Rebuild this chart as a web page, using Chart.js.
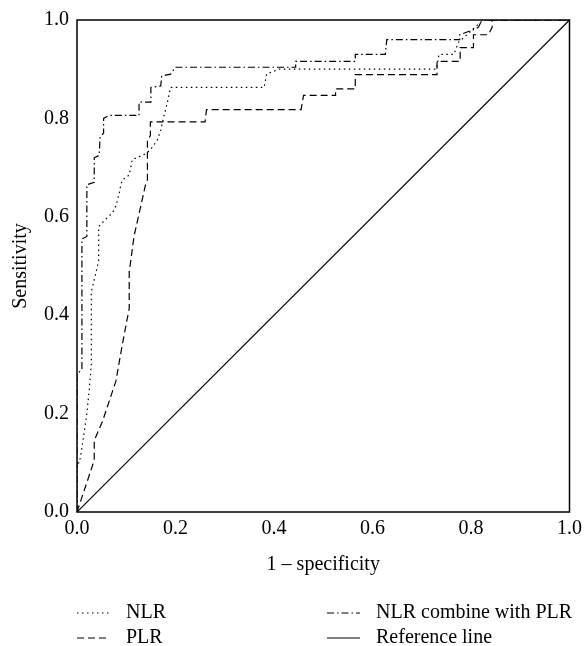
<!DOCTYPE html>
<html>
<head>
<meta charset="utf-8">
<script src="https://cdn.jsdelivr.net/npm/chart.js@4/dist/chart.umd.min.js"></script>
<style>
  html, body { margin: 0; padding: 0; background: #fff; }
</style>
</head>
<body>
<canvas id="roc" width="587" height="646"></canvas>
<script>
// ROC curves, 1 - specificity (x) vs sensitivity (y)
const nlrX = [0, 0, 0.005, 0.01, 0.02, 0.025, 0.029, 0.029, 0.044, 0.044, 0.055, 0.072, 0.079, 0.086, 0.089, 0.092, 0.106, 0.109, 0.112, 0.139, 0.149, 0.156, 0.163, 0.17, 0.176, 0.183, 0.19, 0.38, 0.385, 0.41, 0.73, 0.735, 0.765, 0.775, 0.797, 0.81, 0.825, 1]
const nlrY = [0, 0.1, 0.1, 0.13, 0.2, 0.25, 0.3, 0.447, 0.51, 0.58, 0.592, 0.608, 0.622, 0.649, 0.665, 0.675, 0.685, 0.699, 0.716, 0.728, 0.736, 0.746, 0.756, 0.776, 0.803, 0.83, 0.863, 0.863, 0.89, 0.9, 0.9, 0.93, 0.93, 0.955, 0.975, 0.987, 1, 1]

const plrX = [0, 0.035, 0.035, 0.052, 0.079, 0.086, 0.092, 0.102, 0.106, 0.106, 0.116, 0.122, 0.134, 0.139, 0.143, 0.143, 0.149, 0.149, 0.26, 0.263, 0.455, 0.46, 0.525, 0.525, 0.565, 0.565, 0.731, 0.731, 0.778, 0.778, 0.805, 0.805, 0.835, 0.843, 0.843, 1]
const plrY = [0, 0.105, 0.145, 0.185, 0.266, 0.306, 0.34, 0.393, 0.413, 0.487, 0.562, 0.588, 0.642, 0.665, 0.675, 0.755, 0.765, 0.793, 0.793, 0.818, 0.818, 0.847, 0.847, 0.86, 0.86, 0.889, 0.889, 0.916, 0.916, 0.944, 0.944, 0.97, 0.97, 0.985, 1, 1]

const combX = [0, 0, 0.01, 0.01, 0.02, 0.02, 0.035, 0.035, 0.045, 0.047, 0.054, 0.054, 0.065, 0.126, 0.126, 0.15, 0.15, 0.17, 0.172, 0.19, 0.2, 0.444, 0.444, 0.565, 0.565, 0.626, 0.629, 0.777, 0.777, 0.804, 0.815, 0.822, 1]
const combY = [0, 0.28, 0.29, 0.555, 0.56, 0.665, 0.67, 0.72, 0.725, 0.763, 0.77, 0.8, 0.806, 0.806, 0.833, 0.833, 0.863, 0.866, 0.886, 0.89, 0.904, 0.904, 0.916, 0.916, 0.93, 0.93, 0.96, 0.96, 0.97, 0.98, 0.985, 1, 1]

const refX = [0, 1]
const refY = [0, 1]

const xTicks = [0, 0.2, 0.4, 0.6, 0.8, 1.0]
const yTicks = [0, 0.2, 0.4, 0.6, 0.8, 1.0]

const toPoints = (xs, ys) => xs.map((x, i) => ({x: x, y: ys[i]}))

const serif = "'Liberation Serif', 'DejaVu Serif', serif"

// legend in two columns under the axis title
const legendGrid = {
    id: 'legendGrid',
    afterDraw(chart) {
        const ctx = chart.ctx
        const cols = [77, 327]
        const rows = [613, 638]
        const order = [0, 2, 1, 3]
        order.forEach((di, k) => {
            const ds = chart.data.datasets[di]
            const x = cols[k % 2]
            const y = rows[Math.floor(k / 2)]
            ctx.save()
            ctx.strokeStyle = '#000'
            ctx.lineWidth = ds.borderWidth
            ctx.setLineDash(ds.borderDash || [])
            ctx.beginPath()
            ctx.moveTo(x, y)
            ctx.lineTo(x + 33, y)
            ctx.stroke()
            ctx.setLineDash([])
            ctx.fillStyle = '#000'
            ctx.font = '20px ' + serif
            ctx.textBaseline = 'middle'
            ctx.fillText(ds.label, x + 49, y)
            ctx.restore()
        })
    }
}

const frame = {
    id: 'frame',
    afterDatasetsDraw(chart) {
        const {left, top, right, bottom} = chart.chartArea
        const ctx = chart.ctx
        ctx.save()
        ctx.strokeStyle = '#000'
        ctx.lineWidth = 1.5
        ctx.strokeRect(left, top, right - left, bottom - top)
        ctx.restore()
    }
}

const roc = new Chart(document.getElementById('roc').getContext('2d'), {
    type: 'scatter',
    data: {
        datasets: [{
            label: 'NLR',
            data: toPoints(nlrX, nlrY),
            borderDash: [1.5, 3.5],
        }, {
            label: 'PLR',
            data: toPoints(plrX, plrY),
            borderDash: [7, 4],
        }, {
            label: 'NLR combine with PLR',
            data: toPoints(combX, combY),
            borderDash: [7, 3, 1.5, 3],
        }, {
            label: 'Reference line',
            data: toPoints(refX, refY),
        }].map(ds => Object.assign({
            showLine: true,
            borderColor: '#000',
            backgroundColor: '#000',
            borderWidth: 1.2,
            pointRadius: 0,
            tension: 0,
        }, ds))
    },
    options: {
        responsive: false,
        animation: false,
        layout: {padding: {top: 15, right: 13, left: 0, bottom: 0}},
        plugins: {
            legend: {display: false},
            tooltip: {enabled: false},
        },
        scales: {
            x: {
                type: 'linear',
                min: 0,
                max: 1,
                afterFit: (s) => { s.height = 134 },
                afterBuildTicks: (s) => { s.ticks = xTicks.map(v => ({value: v})) },
                grid: {display: false, drawTicks: false},
                border: {display: false},
                ticks: {
                    padding: 5,
                    color: '#000',
                    font: {family: serif, size: 20},
                    callback: (v) => v.toFixed(1),
                },
                title: {
                    display: true,
                    text: '1 – specificity',
                    color: '#000',
                    font: {family: serif, size: 20, lineHeight: 1.2},
                    padding: {top: 0, bottom: 69},
                },
            },
            y: {
                type: 'linear',
                min: 0,
                max: 1,
                afterFit: (s) => { s.width = 77 },
                afterBuildTicks: (s) => { s.ticks = yTicks.map(v => ({value: v})) },
                grid: {display: false, drawTicks: false},
                border: {display: false},
                ticks: {
                    padding: 8,
                    color: '#000',
                    font: {family: serif, size: 20},
                    callback: (v) => v.toFixed(1),
                },
                title: {
                    display: true,
                    text: 'Sensitivity',
                    color: '#000',
                    font: {family: serif, size: 20, lineHeight: 1.2},
                    padding: {top: 9, bottom: 0},
                },
            },
        },
    },
    plugins: [frame, legendGrid],
});
</script>
</body>
</html>
